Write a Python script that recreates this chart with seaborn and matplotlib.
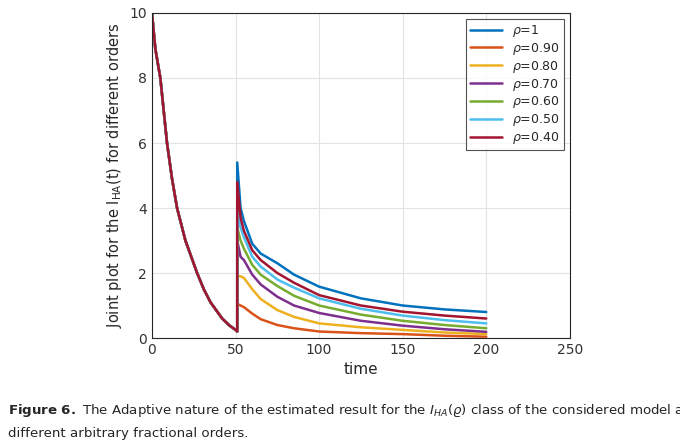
import numpy as np
import pandas as pd
import matplotlib
matplotlib.use('Agg')
import matplotlib.pyplot as plt
import seaborn as sns

sns.set_style("whitegrid")
plt.rcParams['font.family'] = ['DejaVu Sans']

# shared part before the jump (all orders coincide)
t_pre = [0, 2, 5, 9, 12, 15, 20, 27, 31, 35, 42, 46, 50, 51]
y_pre = [10, 8.9, 8.0, 6.0, 4.9, 4.0, 3.0, 2.0, 1.5, 1.1, 0.6, 0.4, 0.25, 0.2]

# after the jump
t_post = [51, 53, 55, 60, 65, 75, 85, 100, 125, 150, 175, 200]
orders = ['1', '0.90', '0.80', '0.70', '0.60', '0.50', '0.40']
post = {
    '1':    [5.4, 4.0, 3.6, 2.9, 2.6, 2.3, 1.95, 1.58, 1.22, 1.0, 0.88, 0.80],
    '0.90': [1.05, 1.0, 0.95, 0.75, 0.58, 0.4, 0.3, 0.2, 0.15, 0.12, 0.07, 0.04],
    '0.80': [1.9, 1.9, 1.85, 1.5, 1.2, 0.86, 0.65, 0.45, 0.33, 0.25, 0.17, 0.12],
    '0.70': [3.0, 2.5, 2.4, 1.95, 1.65, 1.27, 1.0, 0.77, 0.53, 0.38, 0.27, 0.19],
    '0.60': [3.4, 3.0, 2.75, 2.25, 1.95, 1.6, 1.3, 1.0, 0.72, 0.53, 0.4, 0.30],
    '0.50': [3.9, 3.4, 3.1, 2.5, 2.2, 1.8, 1.55, 1.22, 0.9, 0.69, 0.55, 0.45],
    '0.40': [4.8, 3.7, 3.3, 2.7, 2.4, 2.0, 1.7, 1.32, 1.0, 0.81, 0.69, 0.60],
}
colors = ['#0072BD', '#D95319', '#EDB120', '#7E2F8E', '#77AC30', '#4DBEEE', '#A2142F']

fig = plt.figure(figsize=(6.8, 4.48), dpi=100)
ax = fig.add_axes([0.2235, 0.2455, 0.6145, 0.7255])

for o, c in zip(orders, colors):
    df = pd.DataFrame({'t': t_pre + t_post, 'y': y_pre + post[o]})
    sns.lineplot(data=df, x='t', y='y', color=c, lw=1.8, sort=False,
                 estimator=None, errorbar=None,
                 label=r'$\rho$=' + o, ax=ax)

ax.set_xlim(0, 250)
ax.set_ylim(0, 10)
ax.set_xticks(range(0, 251, 50))
ax.set_yticks(range(0, 11, 2))
ax.tick_params(direction='in', labelsize=10, colors='#333333', length=3)
ax.grid(color='#e3e3e3', lw=0.8)
for s in ax.spines.values():
    s.set_color('#262626')
    s.set_linewidth(0.8)
ax.set_xlabel('time', fontsize=11)
ax.set_ylabel(r'Joint plot for the I$_{\mathrm{HA}}$(t) for different orders', fontsize=10.5)
leg = ax.legend(loc='upper right', fontsize=9, frameon=True, fancybox=False,
                handlelength=2.6, borderpad=0.3, labelspacing=0.15)
leg.get_frame().set_edgecolor('#262626')
leg.get_frame().set_linewidth(0.8)

fig.text(0.012, 0.075, r'$\bf{Figure\ 6.}$ The Adaptive nature of the estimated result for the $I_{HA}(\varrho)$ class of the considered model at',
         fontsize=9.6)
fig.text(0.012, 0.025, 'different arbitrary fractional orders.', fontsize=9.6)

plt.savefig('out.png', dpi=100)
